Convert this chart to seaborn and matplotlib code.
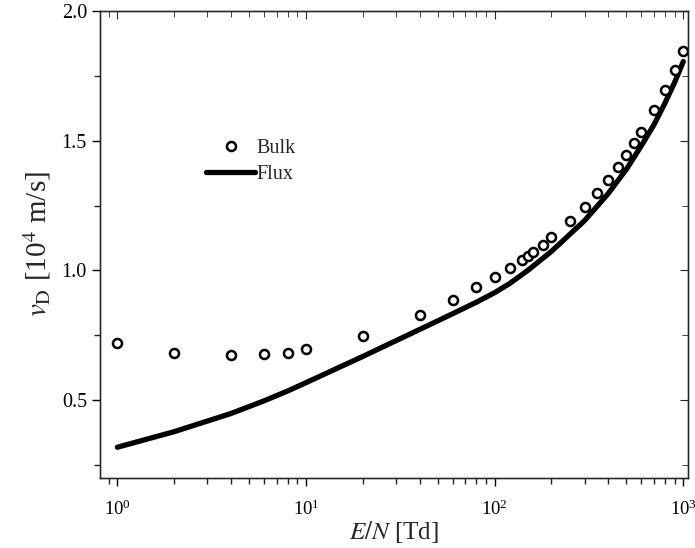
import numpy as np
import pandas as pd
import matplotlib
matplotlib.use("Agg")
import matplotlib.pyplot as plt
import seaborn as sns
from matplotlib.ticker import MultipleLocator, LogLocator, NullFormatter

# Data
bulk_en = [1, 2, 4, 6, 8, 10, 20, 40, 60, 80, 100, 120, 140, 150, 160, 180, 200,
           250, 300, 350, 400, 450, 500, 550, 600, 700, 800, 900, 1000]
bulk_vd = [0.719, 0.683, 0.673, 0.677, 0.681, 0.696, 0.747, 0.828, 0.887, 0.935,
           0.976, 1.010, 1.041, 1.055, 1.069, 1.099, 1.128, 1.190, 1.246, 1.300,
           1.350, 1.400, 1.445, 1.491, 1.535, 1.619, 1.696, 1.773, 1.847]

flux_en = [1, 2, 4, 6, 8, 10, 20, 40, 60, 80, 100, 120, 150, 200, 300, 400, 500,
           600, 700, 800, 900, 1000]
flux_vd = [0.318, 0.378, 0.448, 0.497, 0.535, 0.567, 0.668, 0.772, 0.833, 0.877,
           0.914, 0.949, 1.000, 1.073, 1.192, 1.296, 1.390, 1.481, 1.562, 1.645,
           1.725, 1.805]

sns.set_style("white")
plt.rcParams['font.family'] = ['Liberation Serif', 'DejaVu Serif']
plt.rcParams['mathtext.fontset'] = 'stix'

fig = plt.figure(figsize=(6.95, 5.48), dpi=100)
ax = fig.add_axes([0.144, 0.128, 0.846, 0.852])

df_bulk = pd.DataFrame({"EN": bulk_en, "vD": bulk_vd})
df_flux = pd.DataFrame({"EN": flux_en, "vD": flux_vd})

sns.lineplot(data=df_flux, x="EN", y="vD", ax=ax, color="black", linewidth=3.8,
             label="Flux", sort=True)
ax.plot(df_bulk["EN"], df_bulk["vD"], linestyle="none", marker="o",
        markersize=6.5, markerfacecolor="white", markeredgecolor="black",
        markeredgewidth=1.8, label="Bulk", zorder=5)

ax.set_xscale("log")
ax.set_xlim(0.81, 1060)
ax.set_ylim(0.2, 2.0)

ax.yaxis.set_major_locator(MultipleLocator(0.5))
ax.yaxis.set_minor_locator(MultipleLocator(0.25))
ax.yaxis.set_major_formatter(matplotlib.ticker.FormatStrFormatter("%.1f"))
ax.xaxis.set_major_locator(LogLocator(base=10))
ax.xaxis.set_minor_locator(LogLocator(base=10, subs=np.arange(2, 10)))
ax.xaxis.set_minor_formatter(NullFormatter())

ax.tick_params(axis="both", which="major", direction="out", length=6, width=1,
               labelsize=14.5, colors="black")
ax.tick_params(axis="both", which="minor", direction="out", length=4, width=1)
ax.tick_params(axis="x", which="major", labelsize=13.5, pad=10)

for sp in ax.spines.values():
    sp.set_visible(True)
    sp.set_color("black")
    sp.set_linewidth(1.0)

# Mirror ticks pointing inward on top/right
axt = ax.twiny()
axt.set_xscale("log")
axt.set_xlim(ax.get_xlim())
axt.xaxis.set_major_locator(LogLocator(base=10))
axt.xaxis.set_minor_locator(LogLocator(base=10, subs=np.arange(2, 10)))
axt.tick_params(axis="x", which="both", direction="in", labeltop=False, top=True)
axt.tick_params(axis="x", which="major", length=6)
axt.tick_params(axis="x", which="minor", length=4)

axr = ax.twinx()
axr.set_ylim(ax.get_ylim())
axr.yaxis.set_major_locator(MultipleLocator(0.5))
axr.yaxis.set_minor_locator(MultipleLocator(0.25))
axr.tick_params(axis="y", which="both", direction="in", labelright=False, right=True)
axr.tick_params(axis="y", which="major", length=6)
axr.tick_params(axis="y", which="minor", length=4)

ax.set_xlabel(r"$E/N$ [Td]", fontsize=18, labelpad=0)
ax.set_ylabel(r"$v_{\mathrm{D}}$ [10$^4$ m/s]", fontsize=21, labelpad=6)

handles, labels = ax.get_legend_handles_labels()
order = [labels.index("Bulk"), labels.index("Flux")]
ax.legend([handles[i] for i in order], [labels[i] for i in order],
          loc="upper left", bbox_to_anchor=(0.15, 0.765), frameon=False,
          fontsize=14.5, handlelength=2.4, handletextpad=0.1, labelspacing=0.35)

fig.savefig("out.png", dpi=100)
